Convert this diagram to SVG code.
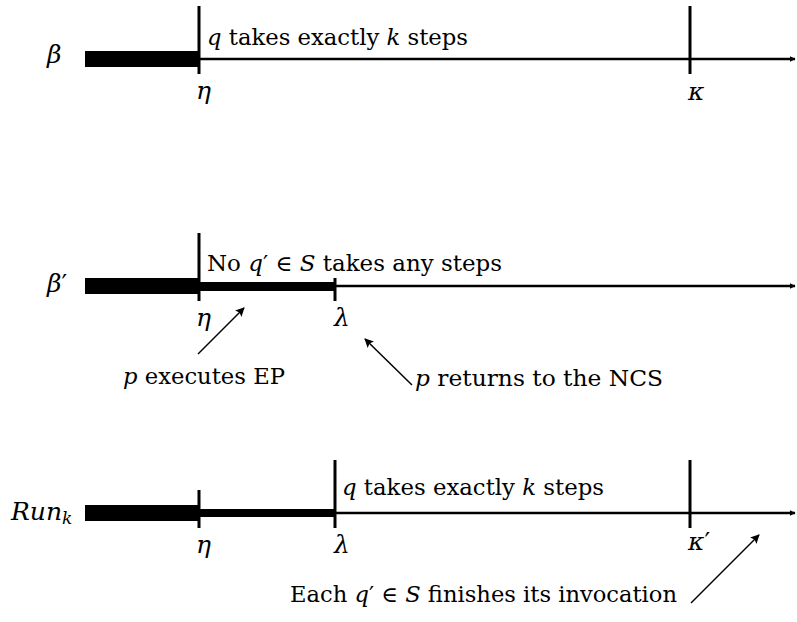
<svg xmlns="http://www.w3.org/2000/svg" width="797" height="622" viewBox="0 0 797 622">
<style>
text{font-family:"DejaVu Serif","Liberation Serif",serif;font-size:22px;fill:#000}
.m{font-style:italic}
.n{font-style:normal}
.g{font-style:italic;font-size:25px}
.ax{stroke:#000;stroke-width:2.5;fill:none}
.tk{stroke:#000;stroke-width:3;fill:none}
.pt{stroke:#000;stroke-width:1.5;fill:none}
</style>
<defs>
<marker id="ah" viewBox="0 0 10 10" refX="9" refY="5" markerWidth="6" markerHeight="6" markerUnits="userSpaceOnUse" orient="auto"><path d="M0,0 L10,5 L0,10 z" fill="#000"/></marker>
<marker id="ah2" viewBox="0 0 10 10" refX="9" refY="5" markerWidth="11" markerHeight="9" markerUnits="userSpaceOnUse" orient="auto"><path d="M0,0 L10,5 L0,10 L2,5 z" fill="#000"/></marker>
</defs>
<g id="row-beta">
<rect x="85" y="51" width="114" height="16" fill="#000"/>
<line class="ax" x1="199" y1="59" x2="795" y2="59" marker-end="url(#ah)"/>
<line class="tk" x1="199" y1="6" x2="199" y2="74"/>
<line class="tk" x1="690" y1="6" x2="690" y2="74"/>
<text x="47" y="63" class="g">β</text>
<text x="207" y="45" textLength="261" lengthAdjust="spacingAndGlyphs"><tspan class="m">q</tspan> takes exactly <tspan class="m">k</tspan> steps</text>
<text x="196" y="99" class="g">η</text>
<text x="688" y="100" class="g">κ</text>
</g>

<g id="row-betaprime">
<rect x="85" y="278" width="114" height="16" fill="#000"/>
<rect x="199" y="282" width="136" height="9" fill="#000"/>
<line class="ax" x1="335" y1="286" x2="795" y2="286" marker-end="url(#ah)"/>
<line class="tk" x1="199" y1="233" x2="199" y2="301"/>
<line class="tk" x1="335" y1="278" x2="335" y2="301"/>
<text x="47" y="292" class="g">β<tspan class="n">′</tspan></text>
<text x="207" y="271" textLength="295" lengthAdjust="spacingAndGlyphs">No <tspan class="m">q</tspan>′ ∈ <tspan class="m">S</tspan> takes any steps</text>
<text x="196" y="326" class="g">η</text>
<text x="334" y="326" class="g">λ</text>
<text x="123" y="384" textLength="162" lengthAdjust="spacingAndGlyphs"><tspan class="m">p</tspan> executes EP</text>
<text x="415" y="386" textLength="248" lengthAdjust="spacingAndGlyphs"><tspan class="m">p</tspan> returns to the NCS</text>
</g>

<g id="row-runk">
<rect x="85" y="505" width="114" height="16" fill="#000"/>
<rect x="199" y="509" width="136" height="8" fill="#000"/>
<line class="ax" x1="335" y1="513" x2="795" y2="513" marker-end="url(#ah)"/>
<line class="tk" x1="199" y1="490" x2="199" y2="528"/>
<line class="tk" x1="335" y1="460" x2="335" y2="528"/>
<line class="tk" x1="690" y1="460" x2="690" y2="528"/>
<text x="11" y="520" class="g">Run<tspan font-size="17" dy="4">k</tspan></text>
<text x="342" y="495" textLength="262" lengthAdjust="spacingAndGlyphs"><tspan class="m">q</tspan> takes exactly <tspan class="m">k</tspan> steps</text>
<text x="196" y="553" class="g">η</text>
<text x="334" y="553" class="g">λ</text>
<text x="688" y="550" class="g">κ<tspan class="n">′</tspan></text>
<text x="290" y="602" textLength="387" lengthAdjust="spacingAndGlyphs">Each <tspan class="m">q</tspan>′ ∈ <tspan class="m">S</tspan> finishes its invocation</text>
</g>

<g id="connectors">
<line class="pt" x1="198" y1="354" x2="244" y2="308" marker-end="url(#ah2)"/>
<line class="pt" x1="412" y1="385" x2="365" y2="339" marker-end="url(#ah2)"/>
<line class="pt" x1="691" y1="603" x2="759" y2="535" marker-end="url(#ah2)"/>
</g>
</svg>
